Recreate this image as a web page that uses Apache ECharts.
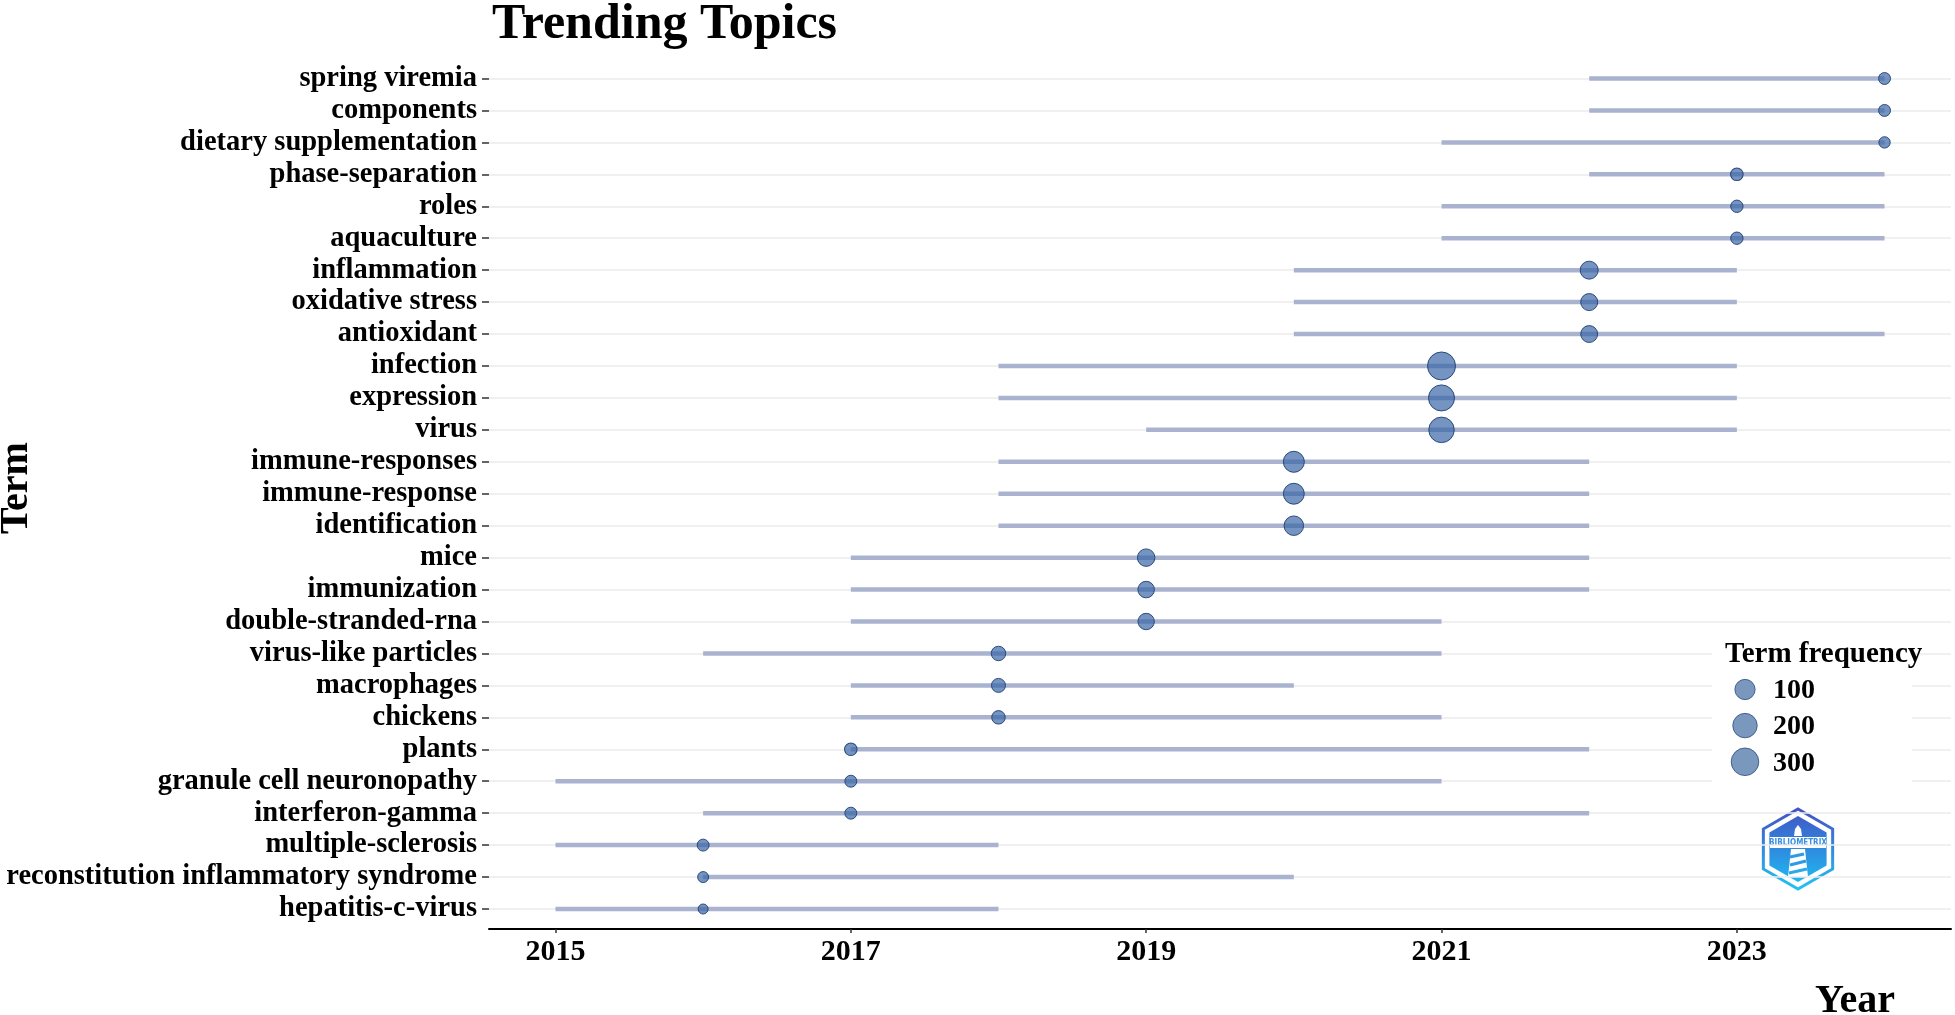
<!DOCTYPE html>
<html>
<head>
<meta charset="utf-8">
<script src="https://cdn.jsdelivr.net/npm/echarts@6/dist/echarts.min.js"></script>
<style>
  html, body { margin: 0; padding: 0; background: #ffffff; }
  #chart { width: 1955px; height: 1015px; }
</style>
</head>
<body>
<div id="chart"></div>
<script>
// ---- data (top to bottom) ----
const terms = [
  'spring viremia', 'components', 'dietary supplementation', 'phase-separation',
  'roles', 'aquaculture', 'inflammation', 'oxidative stress', 'antioxidant',
  'infection', 'expression', 'virus', 'immune-responses', 'immune-response',
  'identification', 'mice', 'immunization', 'double-stranded-rna',
  'virus-like particles', 'macrophages', 'chickens', 'plants',
  'granule cell neuronopathy', 'interferon-gamma', 'multiple-sclerosis',
  'reconstitution inflammatory syndrome', 'hepatitis-c-virus'
];
const yearQ1 = [2022, 2022, 2021, 2022, 2021, 2021, 2020, 2020, 2020, 2018, 2018, 2019, 2018, 2018, 2018, 2017, 2017, 2017, 2016, 2017, 2017, 2017, 2015, 2016, 2015, 2016, 2015];
const yearMedian = [2024, 2024, 2024, 2023, 2023, 2023, 2022, 2022, 2022, 2021, 2021, 2021, 2020, 2020, 2020, 2019, 2019, 2019, 2018, 2018, 2018, 2017, 2017, 2017, 2016, 2016, 2016];
const yearQ3 = [2024, 2024, 2024, 2024, 2024, 2024, 2023, 2023, 2024, 2023, 2023, 2023, 2022, 2022, 2022, 2022, 2022, 2021, 2021, 2020, 2021, 2022, 2021, 2022, 2018, 2020, 2018];
const termFreq = [14, 14, 12, 17, 16, 16, 77, 62, 60, 350, 280, 262, 138, 135, 105, 69, 55, 53, 31, 27, 23, 17, 14, 14, 14, 11, 10];
const yearTicks = [2015, 2017, 2019, 2021, 2023];
const legendBreaks = [100, 200, 300];

// ---- size scale (area-like) ----
const fMin = Math.min(...termFreq), fMax = Math.max(...termFreq);
const dMin = 10, dMax = 28;
function sizeOf(v) {
  const t = Math.max(0, (v - fMin) / (fMax - fMin));
  return dMin + (dMax - dMin) * Math.sqrt(t);
}

const FONT = '"Liberation Serif", "Times New Roman", serif';

const segData = terms.map((t, i) => [yearQ1[i], yearQ3[i], i]);
const ptData = terms.map((t, i) => [yearMedian[i], i, termFreq[i]]);

const bubbleFill = 'rgba(52,98,164,0.68)';
const bubbleEdge = 'rgba(30,62,112,0.9)';

// legend graphics
const legendX = 1745, legendYs = [689.5, 725.6, 761.8];
const legendGraphics = [
  { type: 'rect', z: 10, shape: { x: 1712, y: 626, width: 200, height: 158 }, style: { fill: '#ffffff' } },
  { type: 'text', z: 11, left: 1725, top: 640, style: { text: 'Term frequency', font: 'bold 29px ' + FONT, fill: '#000' } }
];
legendBreaks.forEach((b, k) => {
  legendGraphics.push({
    type: 'circle', z: 11, x: legendX, y: legendYs[k],
    shape: { cx: 0, cy: 0, r: sizeOf(b) / 2 + 0.5 },
    style: { fill: 'rgba(78,116,168,0.75)', stroke: 'rgba(45,75,125,0.8)', lineWidth: 1 }
  });
  legendGraphics.push({
    type: 'text', z: 11, x: 1773, y: legendYs[k] + 1.5,
    style: { text: String(b), font: 'bold 28px ' + FONT, fill: '#000', verticalAlign: 'middle' }
  });
});

// logo (hexagon)
function hexPts(r) {
  const p = [];
  for (let k = 0; k < 6; k++) {
    const a = Math.PI / 180 * (60 * k - 90);
    p.push([r * Math.cos(a), r * Math.sin(a)]);
  }
  return p;
}
const logo = {
  type: 'group', x: 1798, y: 849, z: 11,
  children: [
    { type: 'polygon', shape: { points: hexPts(40) },
      style: { fill: '#ffffff', lineWidth: 3,
        stroke: new echarts.graphic.LinearGradient(0, 0, 0, 1, [{ offset: 0, color: '#4650c4' }, { offset: 1, color: '#22c4f6' }]) } },
    { type: 'polygon', shape: { points: hexPts(33) },
      style: { fill: new echarts.graphic.LinearGradient(0, 0, 0, 1, [{ offset: 0, color: '#3f5cc9' }, { offset: 1, color: '#1fb8f2' }]) } },
    { type: 'rect', shape: { x: -28, y: -12, width: 56, height: 11 }, style: { fill: '#ffffff' } },
    { type: 'text', x: 0, y: -6.5, style: { text: 'BIBLIOMETRIX', font: 'bold 8px "DejaVu Sans Condensed", sans-serif', fill: '#3a8fe0', align: 'center', verticalAlign: 'middle' } },
    { type: 'polygon', shape: { points: [[-4, -13], [4, -13], [3, -20], [0, -24], [-3, -20]] }, style: { fill: '#ffffff' } },
    { type: 'polygon', shape: { points: [[-7, 0], [7, 0], [10, 28], [-10, 28]] }, style: { fill: '#ffffff' } },
    { type: 'polyline', shape: { points: [[-8, 8], [6, 5]] }, style: { stroke: '#2a9be6', lineWidth: 3 } },
    { type: 'polyline', shape: { points: [[-8, 16], [8, 12]] }, style: { stroke: '#2a9be6', lineWidth: 3 } },
    { type: 'polyline', shape: { points: [[-9, 24], [9, 20]] }, style: { stroke: '#2aa9ec', lineWidth: 3 } }
  ]
};

const option = {
  backgroundColor: '#ffffff',
  animation: false,
  title: {
    text: 'Trending Topics', left: 487, top: -5,
    textStyle: { fontFamily: FONT, fontSize: 50, fontWeight: 'bold', color: '#000' }
  },
  grid: { left: 489, right: 4, top: 78.5, bottom: 106, containLabel: false },
  xAxis: {
    type: 'value', min: 2014.55, max: 2024.45, offset: 20,
    axisLine: { show: true, onZero: false, lineStyle: { color: '#000', width: 2 } },
    axisTick: { show: true, customValues: yearTicks, length: 4, lineStyle: { color: '#333', width: 1.5 } },
    axisLabel: { customValues: yearTicks, margin: 8, fontFamily: FONT, fontSize: 30, fontWeight: 'bold', color: '#000',
      formatter: v => String(v) },
    splitLine: { show: false }
  },
  yAxis: {
    type: 'value', inverse: true, min: 0, max: terms.length - 1, interval: 1,
    axisLine: { show: false },
    axisTick: { show: true, length: 7, lineStyle: { color: '#333', width: 1.5 } },
    axisLabel: {
      margin: 12, fontFamily: FONT, fontSize: 28.5, fontWeight: 'bold', color: '#000',
      padding: [6, 0, 0, 0],
      formatter: v => (terms[v] !== undefined ? terms[v] : '')
    },
    splitLine: { show: true, lineStyle: { color: '#ebebeb', width: 1.5 } }
  },
  series: [
    {
      type: 'custom',
      data: segData,
      encode: { x: [0, 1], y: 2 },
      z: 2,
      renderItem: function (params, api) {
        const a = api.coord([api.value(0), api.value(2)]);
        const b = api.coord([api.value(1), api.value(2)]);
        return {
          type: 'line',
          shape: { x1: a[0], y1: a[1], x2: b[0], y2: b[1] },
          style: { stroke: '#a9b3cf', lineWidth: 4.5, lineCap: 'butt' }
        };
      }
    },
    {
      type: 'scatter',
      data: ptData,
      z: 3,
      symbol: 'circle',
      symbolSize: d => sizeOf(d[2]),
      itemStyle: { color: bubbleFill, borderColor: bubbleEdge, borderWidth: 1, opacity: 1 }
    }
  ],
  graphic: [
    { type: 'text', x: 17, y: 488, rotation: Math.PI / 2,
      style: { text: 'Term', font: 'bold 40px ' + FONT, fill: '#000', align: 'center', verticalAlign: 'middle' } },
    { type: 'text', x: 1895, y: 1002,
      style: { text: 'Year', font: 'bold 40px ' + FONT, fill: '#000', align: 'right', verticalAlign: 'middle' } },
    ...legendGraphics,
    logo
  ]
};

const chart = echarts.init(document.getElementById('chart'), null, { renderer: 'canvas' });
chart.setOption(option);
</script>
</body>
</html>
